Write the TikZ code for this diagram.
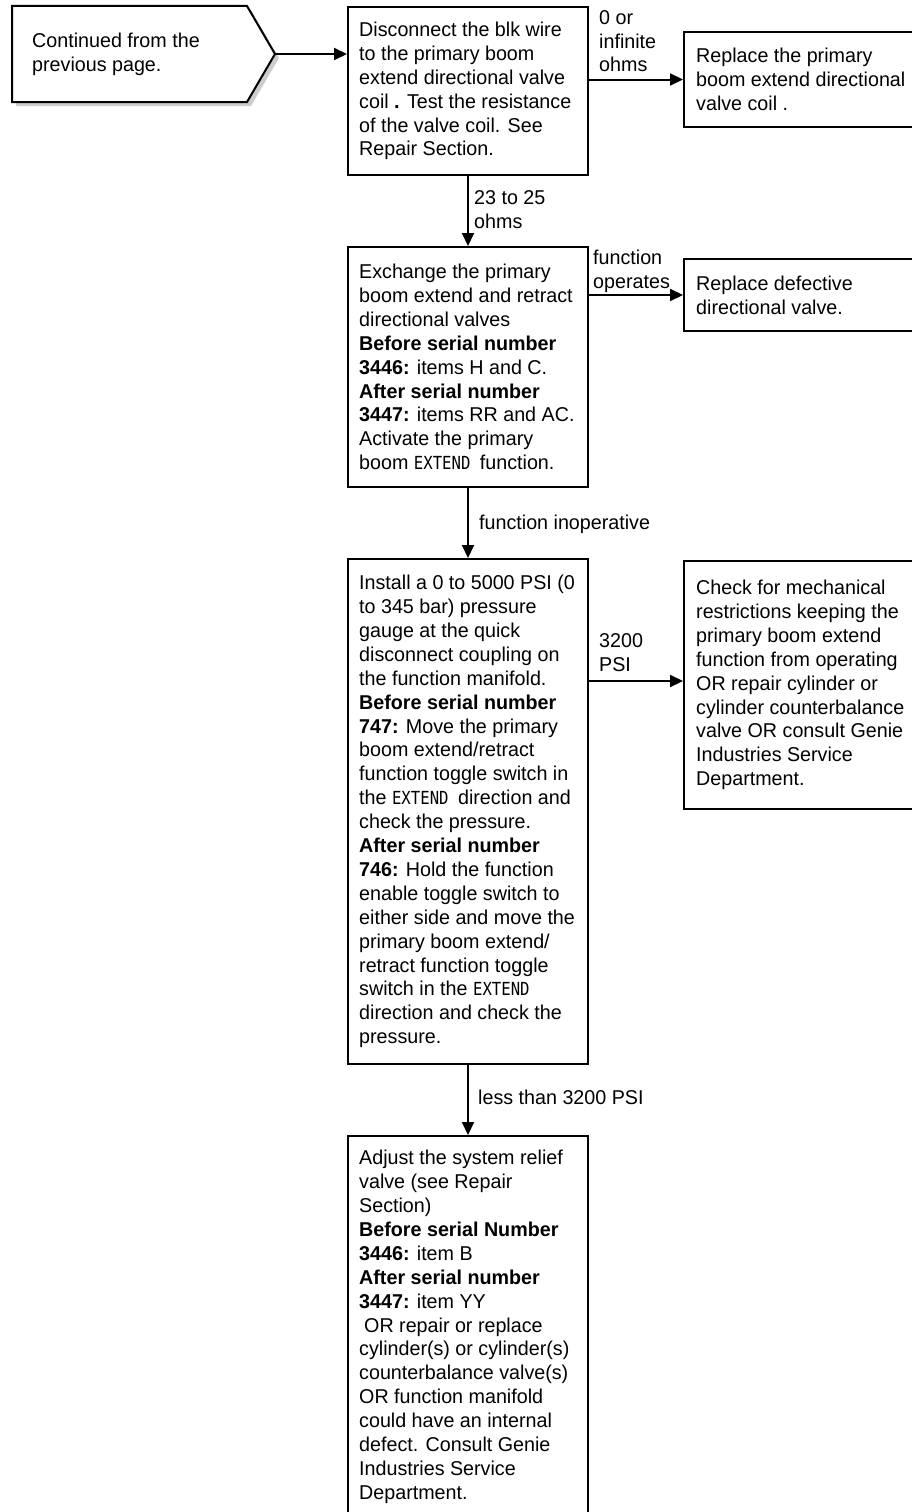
\documentclass[tikz,border=0pt]{standalone}
\usepackage{fontspec}
\setmainfont{Liberation Sans}[FakeStretch=0.985]
\newfontfamily\extfontfam{DejaVu Sans Mono}[FakeStretch=0.87]
\newcommand\extword[1]{{\extfontfam\fontsize{18}{23.9}\selectfont #1}}
\usetikzlibrary{arrows.meta}

\begin{document}
\begin{tikzpicture}[x=1pt,y=-1pt,
  every node/.style={font=\fontsize{20}{23.9}\selectfont},
  boxshape/.style={draw, line width=2pt, fill=white, inner sep=0pt, anchor=north west},
  txt/.style={inner sep=0pt, align=left},
  lbl/.style={inner sep=0pt, align=left, anchor=north west},
  conn/.style={line width=2pt, -{Triangle[length=13pt,width=12pt]}},
]
\useasboundingbox (0,0) rectangle (912,1512);

% start pentagon with shadow
\fill[black!20] (16,10) -- (251,10) -- (279,58) -- (251,106) -- (16,106) -- cycle;
\draw[line width=2pt, fill=white, line join=miter] (12,6) -- (247,6) -- (275,54) -- (247,102) -- (12,102) -- cycle;
\coordinate (starttip) at (275,54);
\node[txt, anchor=west] (start) at (32,54) {Continued from the\\previous page.};

% boxes
\node[boxshape, minimum width=240pt, minimum height=168pt] (b1) at (347,6) {};
\node[txt, anchor=west] (b1t) at ([xshift=12pt]b1.west) {Disconnect the blk wire\\to the primary boom\\extend directional valve\\coil \textbf{.} Test the resistance\\of the valve coil. See\\Repair Section.};

\node[boxshape, minimum width=240pt, minimum height=95pt] (b2) at (683,31) {};
\node[txt, anchor=west] (b2t) at ([xshift=13pt]b2.west) {Replace the primary\\boom extend directional\\valve coil .};

\node[boxshape, minimum width=240pt, minimum height=240pt] (b3) at (347,246) {};
\node[txt, anchor=west] (b3t) at ([xshift=12pt]b3.west) {Exchange the primary\\boom extend and retract\\directional valves\\\textbf{Before serial number}\\\textbf{3446:} items H and C.\\\textbf{After serial number}\\\textbf{3447:} items RR and AC.\\Activate the primary\\boom \extword{EXTEND }function.};

\node[boxshape, minimum width=240pt, minimum height=72pt] (b4) at (683,258) {};
\node[txt, anchor=west] (b4t) at ([xshift=13pt]b4.west) {Replace defective\\directional valve.};

\node[boxshape, minimum width=240pt, minimum height=505pt] (b5) at (347,558) {};
\node[txt, anchor=west] (b5t) at ([xshift=12pt]b5.west) {Install a 0 to 5000 PSI (0\\to 345 bar) pressure\\gauge at the quick\\disconnect coupling on\\the function manifold.\\\textbf{Before serial number}\\\textbf{747:} Move the primary\\boom extend/retract\\function toggle switch in\\the \extword{EXTEND }direction and\\check the pressure.\\\textbf{After serial number}\\\textbf{746:} Hold the function\\enable toggle switch to\\either side and move the\\primary boom extend/\\retract function toggle\\switch in the \extword{EXTEND}\\direction and check the\\pressure.};

\node[boxshape, minimum width=240pt, minimum height=248pt] (b6) at (683,560) {};
\node[txt, anchor=west] (b6t) at ([xshift=13pt]b6.west) {Check for mechanical\\restrictions keeping the\\primary boom extend\\function from operating\\OR repair cylinder or\\cylinder counterbalance\\valve OR consult Genie\\Industries Service\\Department.};

\node[boxshape, minimum width=240pt, minimum height=420pt] (b7) at (347,1135) {};
\node[txt, anchor=north west] (b7t) at (359,1150) {Adjust the system relief\\valve (see Repair\\Section)\\\textbf{Before serial Number}\\\textbf{3446:} item B\\\textbf{After serial number}\\\textbf{3447:} item YY\\\hspace*{5pt}OR repair or replace\\cylinder(s) or cylinder(s)\\counterbalance valve(s)\\OR function manifold\\could have an internal\\defect. Consult Genie\\Industries Service\\Department.};

% connector labels
\node[lbl] (l1) at (599,10) {0 or\\infinite\\ohms};
\node[lbl] (l2) at (474,190) {23 to 25\\ohms};
\node[lbl] (l3) at (593,250) {function\\operates};
\node[lbl] (l4) at (479,515) {function inoperative};
\node[lbl] (l5) at (599,633) {3200\\PSI};
\node[lbl] (l6) at (478,1090) {less than 3200 PSI};

% connectors
\draw[conn] (starttip) -- (starttip -| b1.west);
\draw[conn] (b1.east |- b2.west) -- (b2.west);
\draw[conn] (b1.south) -- (b3.north);
\draw[conn] (b3.east |- b4.west) -- (b4.west);
\draw[conn] (b3.south) -- (b5.north);
\draw[conn] ([yshift=4pt]b5.east |- b6.west) -- ([yshift=4pt]b6.west);
\draw[conn] (b5.south) -- (b7.north);
\end{tikzpicture}
\end{document}
